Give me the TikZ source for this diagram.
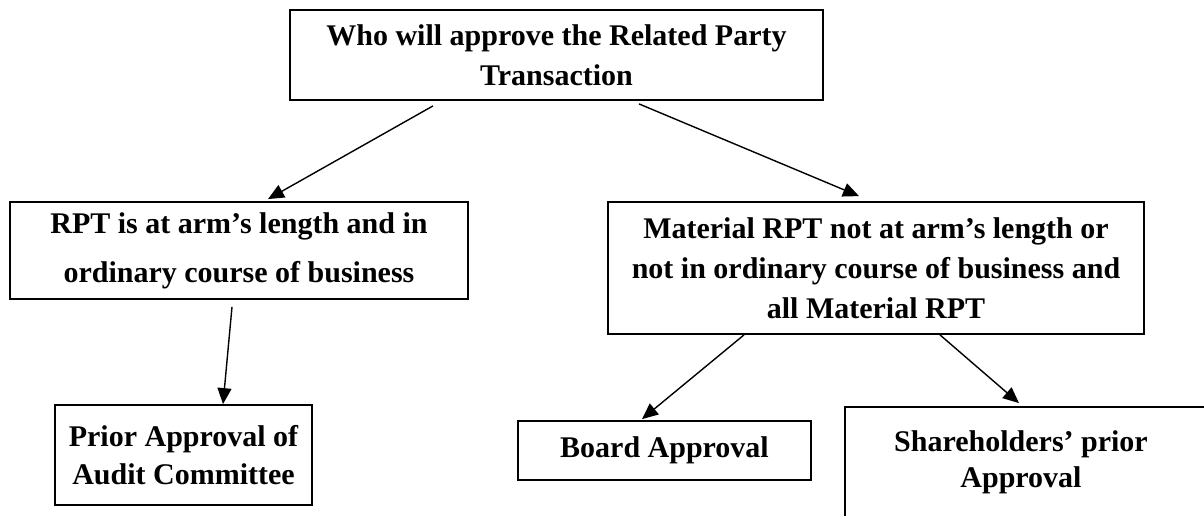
\documentclass[tikz,border=0pt]{standalone}
\usepackage{fontspec}
\setmainfont{Liberation Serif}
\usetikzlibrary{arrows.meta}
\begin{document}
\begin{tikzpicture}[x=1pt,y=-1pt,
  box/.style={draw,line width=1.8pt,inner sep=0pt,align=center,font=\fontsize{30}{40}\selectfont\bfseries},
  txt/.style={inner sep=0pt,align=center,font=\fontsize{30}{36}\selectfont\bfseries},
  conn/.style={line width=1.4pt,-{Triangle[length=16pt,width=14pt]}}]
\path[use as bounding box, clip] (0,0) rectangle (1204,515);
\fill[white] (0,0) rectangle (1204,515);
\node[box,minimum width=533pt,minimum height=90pt] (top) at (556.5,55)
  {Who will approve the Related Party\\Transaction};
\node[box,minimum width=458pt,minimum height=97pt] (left) at (239,250.5)
  {RPT is at arm’s length and in\\[9pt]ordinary course of business};
\node[box,minimum width=536pt,minimum height=132pt] (mat) at (876,268)
  {Material RPT not at arm’s length or\\not in ordinary course of business and\\all Material RPT};
\node[box,minimum width=257pt,minimum height=100pt,font=\fontsize{30}{38}\selectfont\bfseries] (prior) at (183.5,455)
  {Prior Approval of\\Audit Committee};
\node[box,minimum width=293pt,minimum height=59pt] (board) at (664.5,450.5)
  {Board Approval};
\node[draw,line width=1.8pt,minimum width=365pt,minimum height=140pt] (share) at (1027.5,477) {};
\node[txt,anchor=north] (sharetext) at (1021,430) {Shareholders’ prior\\Approval};
\draw[conn] ([xshift=-123.5pt,yshift=-5pt]top.south) -- ([xshift=29pt,yshift=2pt]left.north);
\draw[conn] ([xshift=82.5pt,yshift=-3pt]top.south) -- ([xshift=-17pt,yshift=5pt]mat.north);
\draw[conn] ([xshift=-7pt,yshift=-7pt]left.south) -- ([xshift=39.5pt]prior.north);
\draw[conn] ([xshift=-132pt]mat.south) -- ([xshift=-22.5pt,yshift=1pt]board.north);
\draw[conn] ([xshift=64pt]mat.south) -- ([xshift=-8.5pt,yshift=3pt]share.north);
\end{tikzpicture}
\end{document}
